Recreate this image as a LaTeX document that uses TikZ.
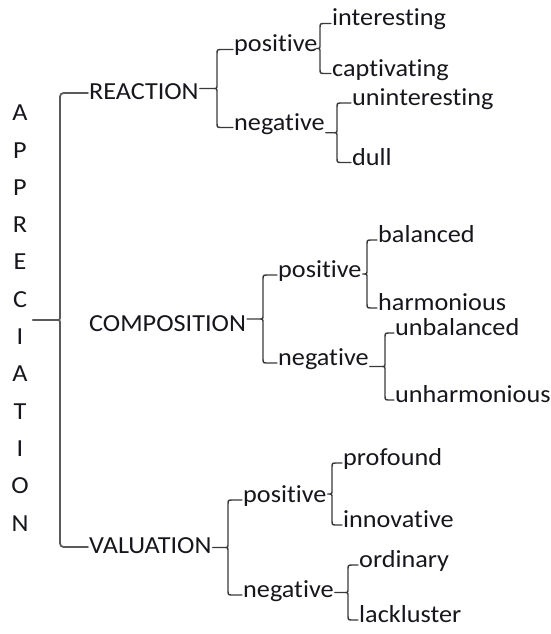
\documentclass[tikz,border=0pt]{standalone}
\usepackage{fontspec}
\setmainfont{Carlito}[FakeStretch=1.07, Ligatures={NoCommon}]
\usetikzlibrary{calc}

\definecolor{txt}{HTML}{16161C}
\definecolor{brc}{HTML}{3A3A3A}
\definecolor{mainbrc}{HTML}{5A5A5A}

\tikzset{
  lbl/.style={font=\fontsize{24.5}{28}\selectfont, text=txt, inner ysep=0pt,
              inner xsep=1pt, text depth=0pt, anchor=west},
  lowlbl/.style={lbl, text height=5pt},   % west anchor 2.5pt above the baseline
  caplbl/.style={lbl, text height=12pt},  % west anchor 6pt above the baseline
  br/.style={draw=brc, line width=1.4pt, line cap=round, line join=round},
  mainbr/.style={draw=mainbrc, line width=1.8pt, line cap=round, line join=round},
}

% curly bracket: #1 corner radius, #2 parent, #3 upper child, #4 lower child,
% #5 x of the bracket, #6 style
\newcommand\fork[6][5]{%
  \draw[#6] let \p1=(#3.west), \p2=(#4.west), \p3=(#5,0),
                \p4=($(#3.west)!0.5!(#4.west)$), \p5=(#2.east) in
    (#3.west) -- (\x3+#1pt,\y1) .. controls (\x3,\y1) .. (\x3,\y1-#1pt)
    -- (\x3,\y4+4pt) .. controls (\x3,\y4) .. (\x3-4pt,\y4)
    .. controls (\x3,\y4) .. (\x3,\y4-4pt)
    -- (\x3,\y2+#1pt) .. controls (\x3,\y2) .. (\x3+#1pt,\y2) -- (#4.west)
    (\x5,\y4) -- (\x3-4pt,\y4);
}

\begin{document}
\begin{tikzpicture}[x=1pt,y=-1pt]
\useasboundingbox (0,0) rectangle (551,634);

% vertical title
\node[font=\fontsize{24.5}{37.3}\selectfont, text=txt, align=center,
      inner xsep=4pt, inner ysep=0pt] (appr) at (20,318)
  {A\\P\\P\\R\\E\\C\\I\\A\\T\\I\\O\\N};

% first level
\node[caplbl] (reac) at (88,93)  {REACTION};
\node[caplbl] (comp) at (88,325) {COMPOSITION};
\node[caplbl] (valu) at (88,547) {VALUATION};

% REACTION
\node[lowlbl] (rpos) at (233,49.5)  {positive};
\node[lowlbl] (rneg) at (233,127.5) {negative};
\node[lowlbl] (r1) at (331,23.5)  {interesting};
\node[lowlbl] (r2) at (331,73.5)  {captivating};
\node[lowlbl] (r3) at (351,103)   {uninteresting};
\node[lowlbl] (r4) at (351,162.5) {dull};

% COMPOSITION
\node[lowlbl] (cpos) at (277,275) {positive};
\node[lowlbl] (cneg) at (277,363) {negative};
\node[lowlbl] (c1) at (377,240) {balanced};
\node[lowlbl] (c2) at (377,308) {harmonious};
\node[lowlbl] (c3) at (394,333) {unbalanced};
\node[lowlbl] (c4) at (394,400) {unharmonious};

% VALUATION
\node[lowlbl] (vpos) at (242,500) {positive};
\node[lowlbl] (vneg) at (242,595) {negative};
\node[lowlbl] (v1) at (342,463) {profound};
\node[lowlbl] (v2) at (342,525) {innovative};
\node[lowlbl] (v3) at (358,565) {ordinary};
\node[lowlbl] (v4) at (358,620) {lackluster};

% brackets
\fork[8]{appr}{reac}{valu}{60}{mainbr}
\fork{reac}{rpos}{rneg}{217}{br}
\fork{rpos}{r1}{r2}{320}{br}
\fork{rneg}{r3}{r4}{337}{br}
\fork{comp}{cpos}{cneg}{263}{br}
\fork{cpos}{c1}{c2}{367}{br}
\fork{cneg}{c3}{c4}{385}{br}
\fork{valu}{vpos}{vneg}{228}{br}
\fork{vpos}{v1}{v2}{332}{br}
\fork{vneg}{v3}{v4}{348}{br}
\end{tikzpicture}
\end{document}
